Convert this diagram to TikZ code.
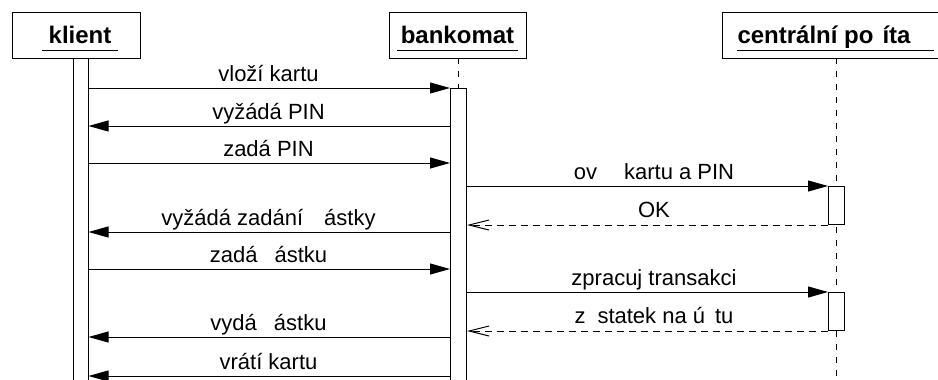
\documentclass[tikz,border=0pt]{standalone}
\usepackage{fontspec}
\setmainfont{Liberation Sans}
\usetikzlibrary{arrows.meta}
\begin{document}
\begin{tikzpicture}[x=1pt,y=-1pt, line width=1pt,
  box/.style={draw, fill=white, inner sep=0pt, anchor=north west},
  lbl/.style={font=\fontsize{22}{26}\selectfont, anchor=base, inner sep=0pt},
  ttl/.style={font=\fontsize{24}{28}\selectfont\bfseries, inner sep=0pt},
  msg/.style={-{Triangle[length=20pt,width=11pt]}},
  ret/.style={dash pattern=on 7pt off 5pt, -{Straight Barb[length=20pt,width=10pt]}},
  life/.style={dash pattern=on 6pt off 7pt},
]
\useasboundingbox (0,0) rectangle (938,380);
% participant boxes
\node[box, minimum width=128pt, minimum height=46pt] (klient) at (12,12) {};
\node[box, minimum width=137pt, minimum height=46pt] (bankomat) at (389,12) {};
\node[box, minimum width=217pt, minimum height=46pt] (pc) at (722,12) {};
% titles
\node[ttl, anchor=base] (tk) at (80,43) {klient};
\node[ttl, anchor=base] (tb) at (457.5,43) {bankomat};
\node[ttl, anchor=base west] (tp) at (737,43) {centrální po\hspace{9pt}íta};
\draw (42,50) -- (118,50);
\draw (397,50) -- (518,50);
\draw (737,50) -- (934,50);
% lifelines
\coordinate (bl0) at (458,58);
\coordinate (bl1) at (458,380);
\coordinate (pl0) at (836,58);
\coordinate (pl1) at (836,380);
\draw[life] (bl0) -- (bl1);
\draw[life] (pl0) -- (pl1);
% activation bars
\node[box, minimum width=15pt, minimum height=330pt] (kb) at (72.5,58) {};
\node[box, minimum width=16pt, minimum height=300pt] (bb) at (450,88) {};
\node[box, minimum width=16pt, minimum height=38pt] (pb1) at (828,186) {};
\node[box, minimum width=16pt, minimum height=38pt] (pb2) at (828,292) {};
% messages
\draw[msg] (kb.east |- 0,88) -- (bb.north west);
\node[lbl] (l1) at (268.5,81) {vloží kartu};
\draw[msg] (bb.west |- 0,126) -- (kb.east |- 0,126);
\node[lbl] (l2) at (268.5,119) {vyžádá PIN};
\draw[msg] (kb.east |- 0,163) -- (bb.west |- 0,163);
\node[lbl] (l3) at (268.5,156) {zadá PIN};
\draw[msg] (bb.east |- pb1.north) -- (pb1.north west);
\node[lbl] (l4) at (654,179) {ov\hspace{27pt}kartu a PIN};
\draw[ret] (pb1.south west) -- (bb.east |- pb1.south);
\node[lbl] (l5) at (654,217) {OK};
\draw[msg] (bb.west |- 0,232) -- (kb.east |- 0,232);
\node[lbl] (l6) at (268.5,225) {vyžádá zadání\hspace{21pt}ástky};
\draw[msg] (kb.east |- 0,269) -- (bb.west |- 0,269);
\node[lbl] (l7) at (268.5,262) {zadá\hspace{17pt}ástku};
\draw[msg] (bb.east |- pb2.north) -- (pb2.north west);
\node[lbl] (l8) at (654,285) {zpracuj transakci};
\draw[ret] (pb2.south west) -- (bb.east |- pb2.south);
\node[lbl] (l9) at (654,323) {z\hspace{12pt}statek na ú\hspace{10pt}tu};
\draw[msg] (bb.west |- 0,337) -- (kb.east |- 0,337);
\node[lbl] (l10) at (268.5,330) {vydá\hspace{17pt}ástku};
\draw[msg] (bb.west |- 0,376) -- (kb.east |- 0,376);
\node[lbl] (l11) at (268.5,369) {vrátí kartu};
\end{tikzpicture}
\end{document}
